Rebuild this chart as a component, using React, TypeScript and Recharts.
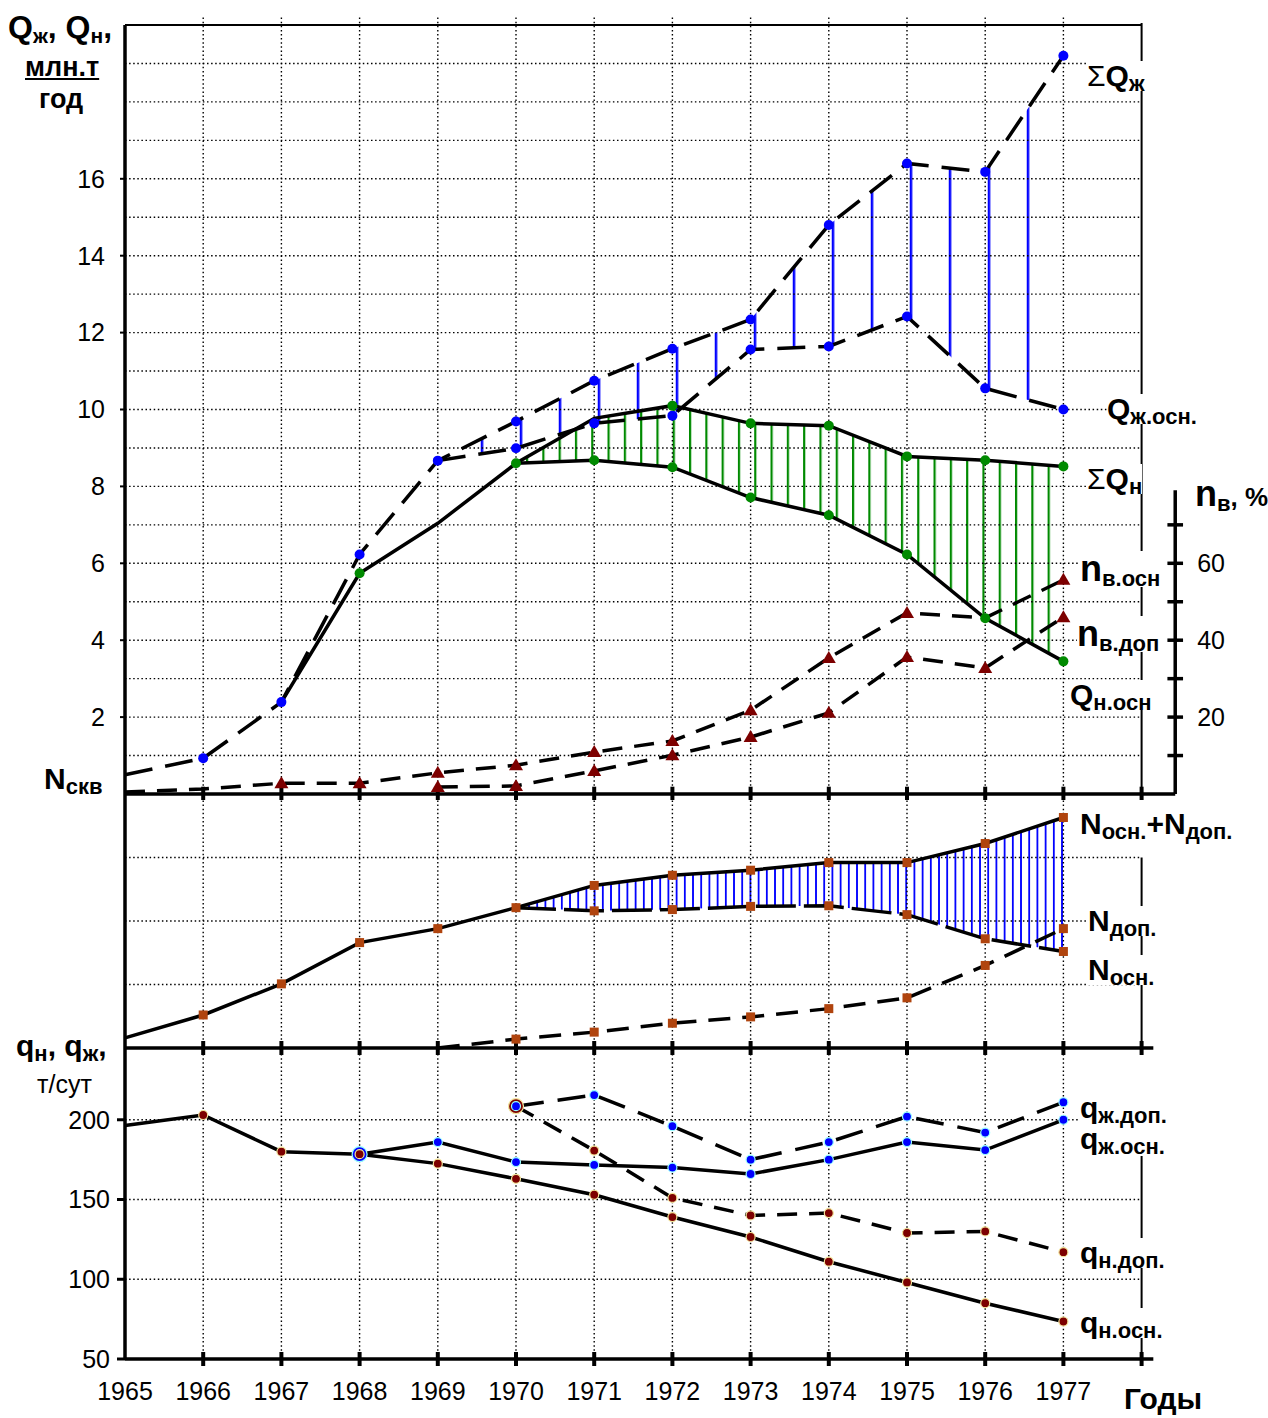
import React from 'react';
import { ComposedChart, Line, Area, XAxis, YAxis, ReferenceLine } from 'recharts';

const FONT = '"Liberation Sans", Arial, Helvetica, sans-serif';

// ---- years ----
const YEARS = [1965, 1966, 1967, 1968, 1969, 1970, 1971, 1972, 1973, 1974, 1975, 1976, 1977];
const GRID_YEARS = YEARS.slice(1);
const TICK_YEARS = [...GRID_YEARS, 1978];

// ---- liquid / oil output, млн.т/год ----
const SUM_QZH = [0.5, 0.93, 2.39, 6.23, 8.67, 9.69, 10.75, 11.58, 12.34, 14.8, 16.4, 16.18, 19.2]; // 1965-1977
const QZH_OSN = [8.67, 8.99, 9.64, 9.84, 11.56, 11.64, 12.42, 10.55, 10.0]; // 1969-1977
const SUM_QN = [2.39, 5.74, 7.04, 8.6, 9.77, 10.1, 9.64, 9.58, 8.78, 8.68, 8.52]; // 1967-1977
const QN_OSN = [8.6, 8.68, 8.5, 7.71, 7.25, 6.23, 4.57, 3.45]; // 1970-1977

// ---- water cut, % ----
const NV_OSN = [0.5, 1.3, 2.8, 2.8, 5.5, 7.5, 10.9, 13.8, 21.8, 35.4, 47.1, 45.8, 55.7]; // 1965-1977
const NV_DOP = [1.8, 2.1, 6.0, 10.1, 14.8, 21.1, 35.6, 32.8, 46.0]; // 1969-1977

// ---- number of wells (relative units) ----
const N_SUM = [0.16, 0.52, 1.01, 1.66, 1.88, 2.21, 2.56, 2.72, 2.8, 2.92, 2.92, 3.22, 3.63]; // 1965-1977
const N_OSN = [2.21, 2.16, 2.18, 2.23, 2.24, 2.1, 1.72, 1.52]; // 1970-1977
const N_DOP = [0, 0.14, 0.25, 0.39, 0.49, 0.62, 0.79, 1.3, 1.88]; // 1969-1977

// ---- well rates, т/сут ----
const RATE_QN_OSN = [196.4, 203, 180, 178.4, 172.5, 163, 153, 139, 126.5, 111, 98, 85, 73.5]; // 1965-1977
const RATE_QZH_OSN = [178.4, 186, 173.5, 171.7, 170, 166, 175, 186, 181, 200]; // 1968-1977
const RATE_QZH_DOP = [208.5, 215.5, 196, 175, 186, 202, 192, 211]; // 1970-1977
const RATE_QN_DOP = [208.5, 180.7, 151, 140, 141.5, 129, 130, 117]; // 1970-1977

// ---- axis ticks / grid ----
const Q_TICKS = [2, 4, 6, 8, 10, 12, 14, 16];
const Q_GRID = [1, 2, 3, 4, 5, 6, 7, 8, 9, 10, 11, 12, 13, 14, 15, 16, 17, 18, 19];
const NV_TICKS = [20, 40, 60];
const NV_MARKS = [10, 20, 30, 40, 50, 60, 70];
const N_GRID = [1, 2, 3];
const RATE_TICKS = [50, 100, 150, 200];
const RATE_GRID = [100, 150, 200];

// ---- layout ----
const W = 1268;
const X_MIN = 1965;
const X_MAX = 1978.43;
const X_BORDER = 1978;
const X0 = 125;
const PX_YEAR = 78.2;
const PLOT_RIGHT = X0 + (X_MAX - X_MIN) * PX_YEAR;

const series = (from: number, vals: number[]) => vals.map((v, i) => ({ year: from + i, v }));
const band = (from: number, lo: number[], hi: number[]) =>
  lo.map((v, i) => ({ year: from + i, range: [v, hi[i]] }));

const DOTTED = { stroke: '#000', strokeWidth: 1.4, strokeDasharray: '1.5 2.6' };
const AXIS = { stroke: '#000', strokeWidth: 3.5 };
const THIN = { stroke: '#000', strokeWidth: 2 };
const TICK_FONT = { fontSize: 25, fill: '#000', fontFamily: FONT };

const BLUE = '#0000ff';
const GREEN = '#008a00';
const DARK_RED = '#7d0000';
const BROWN = '#b0440e';

const roundDot =
  (fill: string, r: number, skip: number[] = [], stroke = 'none', big?: { year: number; r: number }) =>
  (p: any) => {
    const key = `d${p.index}`;
    const yr = p.payload?.year;
    if (p.cx == null || p.cy == null || skip.includes(yr)) return <g key={key} />;
    const rr = big && big.year === yr ? big.r : r;
    return <circle key={key} cx={p.cx} cy={p.cy} r={rr} fill={fill} stroke={stroke} strokeWidth={1.2} />;
  };

const triDot = (skip: number[] = []) => (p: any) => {
  const key = `t${p.index}`;
  if (p.cx == null || p.cy == null || skip.includes(p.payload?.year)) return <g key={key} />;
  const { cx, cy } = p;
  return <polygon key={key} points={`${cx},${cy - 7} ${cx - 7},${cy + 5} ${cx + 7},${cy + 5}`} fill={DARK_RED} />;
};

const squareDot = (skip: number[] = []) => (p: any) => {
  const key = `s${p.index}`;
  if (p.cx == null || p.cy == null || skip.includes(p.payload?.year)) return <g key={key} />;
  return <rect key={key} x={p.cx - 4.5} y={p.cy - 4.5} width={9} height={9} fill={BROWN} />;
};

const Hatch = ({ id, color, step, width, x }: any) => (
  <pattern id={id} patternUnits="userSpaceOnUse" width={step} height={10} x={x - width / 2}>
    <rect x={0} y={0} width={width} height={10} fill={color} />
  </pattern>
);

const Tag = ({ x, y, size = 30, plain = false, lh = 1, children }: any) => (
  <div
    style={{
      position: 'absolute',
      left: x,
      top: y,
      fontFamily: FONT,
      fontSize: size,
      fontWeight: plain ? 400 : 700,
      lineHeight: lh,
      background: '#fff',
      whiteSpace: 'nowrap',
      color: '#000',
    }}
  >
    {children}
  </div>
);

const Sub = ({ size = 22, children }: any) => (
  <span style={{ fontSize: size, position: 'relative', top: 5 }}>{children}</span>
);

const TopPanel = () => (
  <ComposedChart width={W} height={800} margin={{ top: 25, right: W - PLOT_RIGHT - 80, bottom: 6, left: X0 - 70 }}>
    <defs>
      <Hatch id="hatchQzh" color={BLUE} step={39} width={2.5} x={1067} />
      <Hatch id="hatchQn" color={GREEN} step={16.3} width={2.2} x={1065} />
    </defs>
    <XAxis type="number" dataKey="year" domain={[X_MIN, X_MAX]} hide />
    <YAxis
      type="number"
      domain={[0, 20]}
      ticks={Q_TICKS}
      interval={0}
      width={70}
      axisLine={AXIS}
      tickLine={{ stroke: '#000', strokeWidth: 2 }}
      tickSize={5}
      tickMargin={15}
      tick={TICK_FONT}
    />
    <YAxis
      yAxisId="pct"
      orientation="right"
      type="number"
      domain={[0, 200]}
      ticks={NV_TICKS}
      interval={0}
      width={80}
      axisLine={false}
      tickLine={false}
      tickSize={0}
      tickMargin={22}
      tick={TICK_FONT}
    />

    {Q_GRID.map((v) => (
      <ReferenceLine key={`h${v}`} segment={[{ x: X_MIN, y: v }, { x: X_BORDER, y: v }]} ifOverflow="visible" {...DOTTED} />
    ))}
    {GRID_YEARS.map((yr) => (
      <ReferenceLine key={`v${yr}`} segment={[{ x: yr, y: 0 }, { x: yr, y: 20.25 }]} ifOverflow="visible" {...DOTTED} />
    ))}

    <Area
      data={band(1969, QZH_OSN, SUM_QZH.slice(4))}
      dataKey="range"
      type="linear"
      stroke="none"
      fill="url(#hatchQzh)"
      fillOpacity={1}
      isAnimationActive={false}
    />
    <Area
      data={band(1970, QN_OSN, SUM_QN.slice(3))}
      dataKey="range"
      type="linear"
      stroke="none"
      fill="url(#hatchQn)"
      fillOpacity={1}
      isAnimationActive={false}
    />

    <Line
      yAxisId="pct"
      data={series(1965, NV_OSN)}
      dataKey="v"
      type="linear"
      stroke="#000"
      strokeWidth={3.5}
      strokeDasharray="20 12"
      dot={triDot([1965, 1966, 1976])}
      isAnimationActive={false}
    />
    <Line
      yAxisId="pct"
      data={series(1969, NV_DOP)}
      dataKey="v"
      type="linear"
      stroke="#000"
      strokeWidth={3.5}
      strokeDasharray="20 12"
      dot={triDot()}
      isAnimationActive={false}
    />

    <Line
      data={series(1965, SUM_QZH)}
      dataKey="v"
      type="linear"
      stroke="#000"
      strokeWidth={3.5}
      strokeDasharray="28 13"
      dot={roundDot(BLUE, 5, [1965])}
      isAnimationActive={false}
    />
    <Line
      data={series(1969, QZH_OSN)}
      dataKey="v"
      type="linear"
      stroke="#000"
      strokeWidth={3.5}
      strokeDasharray="28 13"
      dot={roundDot(BLUE, 5, [1969])}
      isAnimationActive={false}
    />
    <Line
      data={series(1967, SUM_QN)}
      dataKey="v"
      type="linear"
      stroke="#000"
      strokeWidth={3.5}
      dot={roundDot(GREEN, 5, [1967, 1969, 1971])}
      isAnimationActive={false}
    />
    <Line
      data={series(1970, QN_OSN)}
      dataKey="v"
      type="linear"
      stroke="#000"
      strokeWidth={3.5}
      dot={roundDot(GREEN, 5, [1970])}
      isAnimationActive={false}
    />

    <ReferenceLine segment={[{ x: X_MIN, y: 20 }, { x: X_BORDER, y: 20 }]} ifOverflow="visible" {...THIN} />
    <ReferenceLine segment={[{ x: X_BORDER, y: 0 }, { x: X_BORDER, y: 20.05 }]} ifOverflow="visible" {...THIN} />
    <ReferenceLine segment={[{ x: X_MIN, y: 0 }, { x: X_MAX, y: 0 }]} ifOverflow="visible" {...AXIS} />
    {TICK_YEARS.map((yr) => (
      <ReferenceLine
        key={`t${yr}`}
        segment={[{ x: yr, y: -0.19 }, { x: yr, y: 0.19 }]}
        ifOverflow="visible"
        stroke="#000"
        strokeWidth={4}
      />
    ))}
    <ReferenceLine yAxisId="pct" segment={[{ x: X_MAX, y: 0 }, { x: X_MAX, y: 79 }]} ifOverflow="visible" {...AXIS} />
    {NV_MARKS.map((p) => (
      <ReferenceLine
        key={`p${p}`}
        yAxisId="pct"
        segment={[{ x: X_MAX - 0.1, y: p }, { x: X_MAX + 0.1, y: p }]}
        ifOverflow="visible"
        {...AXIS}
      />
    ))}
  </ComposedChart>
);

const WellsPanel = () => (
  <ComposedChart width={W} height={280} margin={{ top: 14, right: W - PLOT_RIGHT, bottom: 12, left: X0 }}>
    <defs>
      <Hatch id="hatchN" color={BLUE} step={8.2} width={1.8} x={1062} />
    </defs>
    <XAxis type="number" dataKey="year" domain={[X_MIN, X_MAX]} hide />
    <YAxis type="number" domain={[0, 4]} hide />

    {N_GRID.map((v) => (
      <ReferenceLine key={`h${v}`} segment={[{ x: X_MIN, y: v }, { x: X_BORDER, y: v }]} ifOverflow="visible" {...DOTTED} />
    ))}
    {GRID_YEARS.map((yr) => (
      <ReferenceLine key={`v${yr}`} segment={[{ x: yr, y: 0 }, { x: yr, y: 4 }]} ifOverflow="visible" {...DOTTED} />
    ))}

    <Area
      data={band(1970, N_OSN, N_SUM.slice(5))}
      dataKey="range"
      type="linear"
      stroke="none"
      fill="url(#hatchN)"
      fillOpacity={1}
      isAnimationActive={false}
    />

    <Line
      data={series(1969, N_DOP)}
      dataKey="v"
      type="linear"
      stroke="#000"
      strokeWidth={3.5}
      strokeDasharray="22 12"
      dot={squareDot([1969])}
      isAnimationActive={false}
    />
    <Line
      data={series(1970, N_OSN)}
      dataKey="v"
      type="linear"
      stroke="#000"
      strokeWidth={3.5}
      strokeDasharray="40 8"
      dot={squareDot([1970])}
      isAnimationActive={false}
    />
    <Line
      data={series(1965, N_SUM)}
      dataKey="v"
      type="linear"
      stroke="#000"
      strokeWidth={3.5}
      dot={squareDot([1965])}
      isAnimationActive={false}
    />

    <ReferenceLine segment={[{ x: X_MIN, y: 0 }, { x: X_MIN, y: 4 }]} ifOverflow="visible" {...AXIS} />
    <ReferenceLine segment={[{ x: X_BORDER, y: 0 }, { x: X_BORDER, y: 3 }]} ifOverflow="visible" {...THIN} />
    <ReferenceLine segment={[{ x: X_MIN, y: 0 }, { x: 1978.15, y: 0 }]} ifOverflow="visible" {...AXIS} />
    {TICK_YEARS.map((yr) => (
      <ReferenceLine
        key={`t${yr}`}
        segment={[{ x: yr, y: -0.11 }, { x: yr, y: 0.11 }]}
        ifOverflow="visible"
        stroke="#000"
        strokeWidth={4}
      />
    ))}
  </ComposedChart>
);

const RatesPanel = () => (
  <ComposedChart width={W} height={378} margin={{ top: 8, right: W - PLOT_RIGHT, bottom: 9, left: X0 - 70 }}>
    <XAxis
      type="number"
      dataKey="year"
      domain={[X_MIN, X_MAX]}
      ticks={YEARS}
      interval={0}
      height={50}
      axisLine={false}
      tickLine={false}
      tickSize={0}
      tickMargin={23}
      tick={TICK_FONT}
    />
    <YAxis
      type="number"
      domain={[50, 245]}
      ticks={RATE_TICKS}
      interval={0}
      width={70}
      axisLine={AXIS}
      tickLine={{ stroke: '#000', strokeWidth: 3 }}
      tickSize={8}
      tickMargin={7}
      tick={TICK_FONT}
    />

    {RATE_GRID.map((v) => (
      <ReferenceLine key={`h${v}`} segment={[{ x: X_MIN, y: v }, { x: X_BORDER, y: v }]} ifOverflow="visible" {...DOTTED} />
    ))}
    {GRID_YEARS.map((yr) => (
      <ReferenceLine key={`v${yr}`} segment={[{ x: yr, y: 50 }, { x: yr, y: 245 }]} ifOverflow="visible" {...DOTTED} />
    ))}

    <Line
      data={series(1968, RATE_QZH_OSN)}
      dataKey="v"
      type="linear"
      stroke="#000"
      strokeWidth={3.5}
      dot={roundDot(BLUE, 4.5, [], '#9ff', { year: 1968, r: 7.5 })}
      isAnimationActive={false}
    />
    <Line
      data={series(1965, RATE_QN_OSN)}
      dataKey="v"
      type="linear"
      stroke="#000"
      strokeWidth={3.5}
      dot={roundDot(DARK_RED, 4.5, [1965], '#f3e59a')}
      isAnimationActive={false}
    />
    <Line
      data={series(1970, RATE_QN_DOP)}
      dataKey="v"
      type="linear"
      stroke="#000"
      strokeWidth={3.5}
      strokeDasharray="20 12"
      dot={roundDot(DARK_RED, 4.5, [], '#f3e59a', { year: 1970, r: 7.5 })}
      isAnimationActive={false}
    />
    <Line
      data={series(1970, RATE_QZH_DOP)}
      dataKey="v"
      type="linear"
      stroke="#000"
      strokeWidth={3.5}
      strokeDasharray="28 14"
      dot={roundDot(BLUE, 4.5, [], '#9ff')}
      isAnimationActive={false}
    />

    <ReferenceLine segment={[{ x: X_BORDER, y: 50 }, { x: X_BORDER, y: 200 }]} ifOverflow="visible" {...THIN} />
    <ReferenceLine segment={[{ x: X_MIN, y: 50 }, { x: 1978.15, y: 50 }]} ifOverflow="visible" {...AXIS} />
    {TICK_YEARS.map((yr) => (
      <ReferenceLine
        key={`t${yr}`}
        segment={[{ x: yr, y: 45.6 }, { x: yr, y: 54.4 }]}
        ifOverflow="visible"
        stroke="#000"
        strokeWidth={4}
      />
    ))}
  </ComposedChart>
);

export default function App() {
  return (
    <div style={{ position: 'absolute', left: 0, top: 0, width: W, height: 1418, background: '#fff', overflow: 'hidden' }}>
      <div style={{ position: 'absolute', left: 0, top: 0 }}>
        <TopPanel />
      </div>
      <div style={{ position: 'absolute', left: 0, top: 780 }}>
        <WellsPanel />
      </div>
      <div style={{ position: 'absolute', left: 0, top: 1040 }}>
        <RatesPanel />
      </div>

      {/* axis titles */}
      <Tag x={8} y={11} size={32}>
        Q<Sub size={21}>ж</Sub>, Q<Sub size={21}>н</Sub>,
      </Tag>
      <Tag x={25} y={54} size={27}>
        <span style={{ textDecoration: 'underline' }}>млн.т</span>
      </Tag>
      <Tag x={39} y={86} size={27}>
        год
      </Tag>
      <Tag x={44} y={764}>
        N<Sub>скв</Sub>
      </Tag>
      <Tag x={16} y={1031}>
        q<Sub>н</Sub>, q<Sub>ж</Sub>,
      </Tag>
      <Tag x={37} y={1072} size={25} plain>
        т/сут
      </Tag>
      <Tag x={1124} y={1384}>
        Годы
      </Tag>
      <Tag x={1195} y={476} size={36}>
        n<Sub>в</Sub>
        <span style={{ fontSize: 26 }}>, %</span>
      </Tag>

      {/* series captions */}
      <Tag x={1087} y={61}>
        <span style={{ fontWeight: 400 }}>Σ</span>Q<Sub>ж</Sub>
      </Tag>
      <Tag x={1107} y={394}>
        Q<Sub>ж.осн.</Sub>
      </Tag>
      <Tag x={1087} y={464}>
        <span style={{ fontWeight: 400 }}>Σ</span>Q<Sub>н</Sub>
      </Tag>
      <Tag x={1080} y={551} size={36}>
        n<Sub>в.осн</Sub>
      </Tag>
      <Tag x={1077} y={616} size={36}>
        n<Sub>в.доп</Sub>
      </Tag>
      <Tag x={1070} y={680}>
        Q<Sub>н.осн</Sub>
      </Tag>
      <Tag x={1080} y={809}>
        N<Sub>осн.</Sub>+N<Sub>доп.</Sub>
      </Tag>
      <Tag x={1088} y={906}>
        N<Sub>доп.</Sub>
      </Tag>
      <Tag x={1088} y={955}>
        N<Sub>осн.</Sub>
      </Tag>
      <Tag x={1080} y={1094} lh="28px">
        q<Sub>ж.доп.</Sub>
        <br />
        q<Sub>ж.осн.</Sub>
      </Tag>
      <Tag x={1080} y={1238}>
        q<Sub>н.доп.</Sub>
      </Tag>
      <Tag x={1080} y={1308}>
        q<Sub>н.осн.</Sub>
      </Tag>
    </div>
  );
}
